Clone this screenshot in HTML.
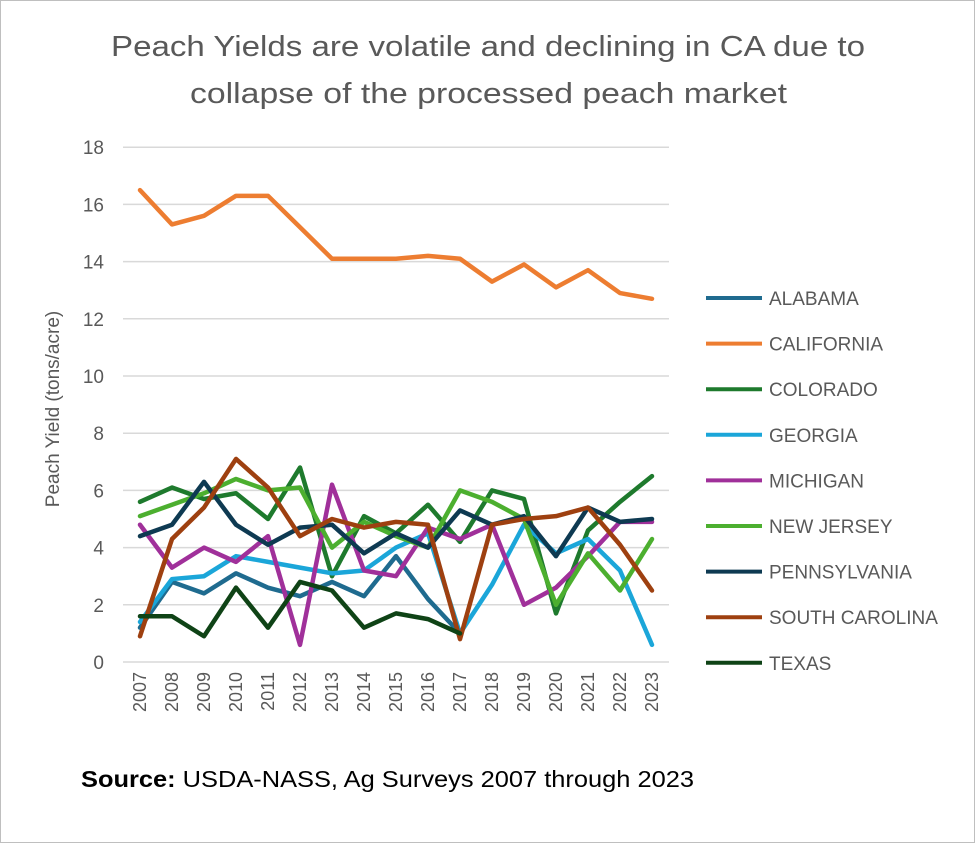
<!DOCTYPE html>
<html><head><meta charset="utf-8"><style>
body{margin:0;background:#fff;}
#wrap{position:relative;width:973px;height:841px;border:1px solid #bfbfbf;background:#fff;font-family:"Liberation Sans",sans-serif;}
</style></head><body>
<div id="wrap">
<svg id="chart" width="973" height="841"></svg>
</div>
<script>
const years=[2007,2008,2009,2010,2011,2012,2013,2014,2015,2016,2017,2018,2019,2020,2021,2022,2023];
const yTicks=[0,2,4,6,8,10,12,14,16,18];
const seriesNames=["ALABAMA","CALIFORNIA","COLORADO","GEORGIA","MICHIGAN","NEW JERSEY","PENNSYLVANIA","SOUTH CAROLINA","TEXAS"];
const seriesColors=["#1f6b8f","#ed7d31","#1e7a2d","#1ba6d9","#a0309a","#4caf2f","#0e3a52","#9e4010","#0f4316"];
const alabama=[1.2,2.8,2.4,3.1,2.6,2.3,2.8,2.3,3.7,2.2,1.0];
const california=[16.5,15.3,15.6,16.3,16.3,15.2,14.1,14.1,14.1,14.2,14.1,13.3,13.9,13.1,13.7,12.9,12.7];
const colorado=[5.6,6.1,5.7,5.9,5.0,6.8,3.0,5.1,4.5,5.5,4.2,6.0,5.7,1.7,4.6,5.6,6.5];
const georgia=[1.4,2.9,3.0,3.7,3.5,3.3,3.1,3.2,4.0,4.5,1.0,2.7,4.8,3.8,4.3,3.2,0.6];
const michigan=[4.8,3.3,4.0,3.5,4.4,0.6,6.2,3.2,3.0,4.7,4.3,4.8,2.0,2.6,3.7,4.9,4.9];
const newJersey=[5.1,5.5,5.9,6.4,6.0,6.1,4.0,4.9,4.4,4.0,6.0,5.6,5.0,2.0,3.8,2.5,4.3];
const pennsylvania=[4.4,4.8,6.3,4.8,4.1,4.7,4.8,3.8,4.5,4.0,5.3,4.8,5.1,3.7,5.4,4.9,5.0];
const southCarolina=[0.9,4.3,5.4,7.1,6.1,4.4,5.0,4.7,4.9,4.8,0.8,4.8,5.0,5.1,5.4,4.1,2.5];
const texas=[1.6,1.6,0.9,2.6,1.2,2.8,2.5,1.2,1.7,1.5,1.0];
const allSeries=[alabama,california,colorado,georgia,michigan,newJersey,pennsylvania,southCarolina,texas];

const NS="http://www.w3.org/2000/svg";
const svg=document.getElementById('chart');
const x0=139,xStep=32,yBase=661,yUnit=28.6,plotL=122,plotR=668;
const xs=i=>x0+i*xStep;
const ys=v=>yBase-v*yUnit;
function mk(tag,attrs){const e=document.createElementNS(NS,tag);for(const k in attrs)e.setAttribute(k,attrs[k]);svg.appendChild(e);return e;}

let t=mk('text',{x:110,y:55,'font-size':29,fill:'#595959',textLength:754,lengthAdjust:'spacingAndGlyphs'});
t.textContent='Peach Yields are volatile and declining in CA due to';


t=mk('text',{x:189,y:102,'font-size':29,fill:'#595959',textLength:597,lengthAdjust:'spacingAndGlyphs'});
t.textContent='collapse of the processed peach market';



yTicks.forEach(v=>{
 const g=mk('line',{x1:plotL,x2:plotR,y1:ys(v),y2:ys(v),stroke:'#d9d9d9','stroke-width':1.5});
 
 
 const l=mk('text',{x:103,y:ys(v)+7,'text-anchor':'end','font-size':19,fill:'#595959'});
 l.textContent=v;
 
 
});
years.forEach((yr,i)=>{
 const l=mk('text',{x:0,y:0,'text-anchor':'end','font-size':18,fill:'#595959',transform:`translate(${xs(i)+6},${yBase+10}) rotate(-90)`});
 l.textContent=yr;
 
 
});
t=mk('text',{x:0,y:0,'text-anchor':'middle','font-size':19,fill:'#595959',transform:'translate(58,408) rotate(-90)'});
t.textContent='Peach Yield (tons/acre)';



allSeries.forEach((s,k)=>{
 const pts=s.map((v,i)=>xs(i)+','+ys(v)).join(' ');
 const p=mk('polyline',{points:pts,fill:'none',stroke:seriesColors[k],'stroke-width':4.5,'stroke-linejoin':'round','stroke-linecap':'round'});
 
 
 const ly=297+k*45.6;
 const ll=mk('line',{x1:705,x2:761,y1:ly,y2:ly,stroke:seriesColors[k],'stroke-width':4});
 
 
 const lt=mk('text',{x:768,y:ly+7,'font-size':19,fill:'#595959'});
 lt.textContent=seriesNames[k];
 
 
});

t=mk('text',{x:80,y:786,'font-size':23,fill:'#000',textLength:613,lengthAdjust:'spacingAndGlyphs'});
t.innerHTML='<tspan font-weight="bold">Source:</tspan> USDA-NASS, Ag Surveys 2007 through 2023';


</script>
</body></html>
